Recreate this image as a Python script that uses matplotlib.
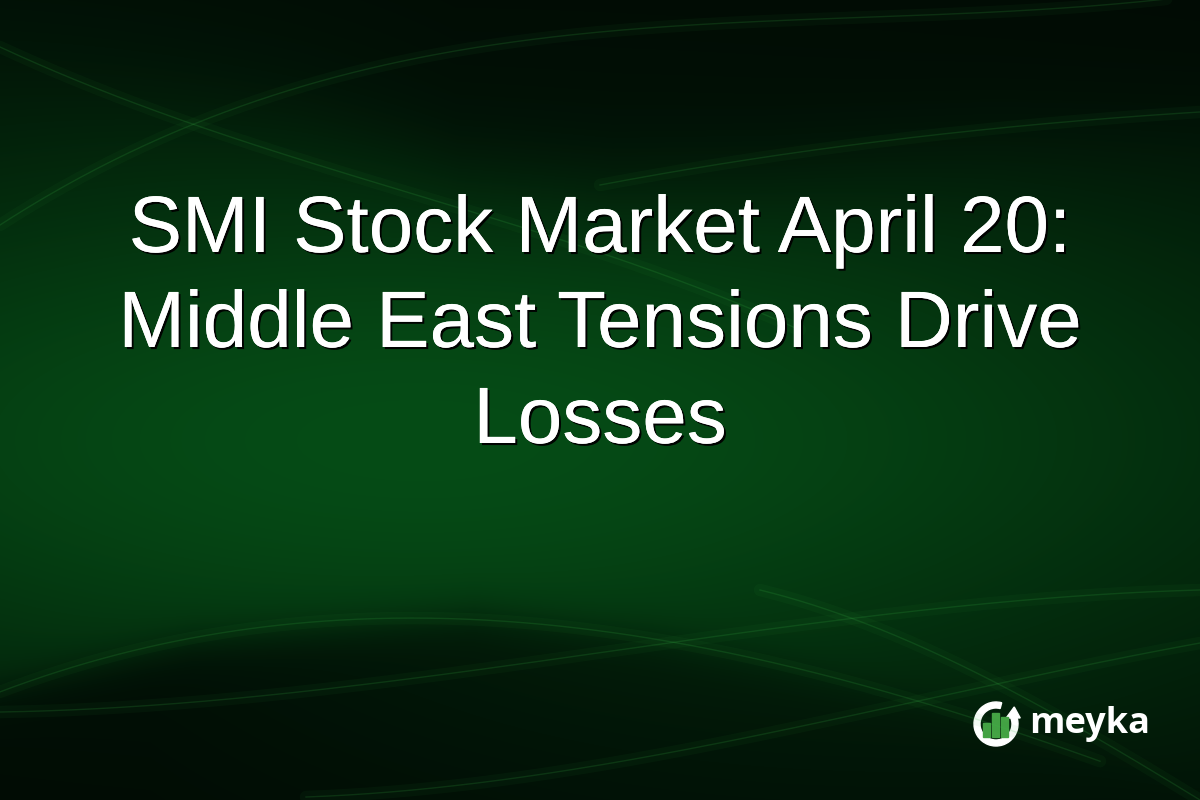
import numpy as np
import matplotlib
matplotlib.use("Agg")
import matplotlib.pyplot as plt
import matplotlib.patheffects as pe
from matplotlib.patches import Wedge, Rectangle, Polygon

# canvas size in pixels
W, H = 1200, 800

# text content
title_lines = ["SMI Stock Market April 20:", "Middle East Tensions Drive", "Losses"]
title_baselines = [252, 347, 443]
brand = "meyka"

# logo bars (heights in px, drawn inside the ring)
logo_bar_heights = [14, 24, 20]


def smooth_step(v):
    return 1.0 / (1.0 + np.exp(-v))


def smooth_curve(px, py, n=300):
    # smooth cubic through a few guide points (decoration only)
    coef = np.polyfit(px, py, min(3, len(px) - 1))
    t = np.linspace(px[0], px[-1], n)
    return t, np.polyval(coef, t)


# background: green glow with darker bands top and bottom
yy, xx = np.mgrid[0:H, 0:W].astype(float)
glow = np.exp(-(((xx - 420) / 1000) ** 2 + ((yy - 440) / 330) ** 2))

top_edge = np.interp(xx, [0, 300, 459, 612, 765, 995, 1200],
                     [40, 110, 163, 179, 168, 133, 117])
top_dark = smooth_step((top_edge - yy) / 30) * np.clip(0.35 + xx / 700, 0, 1)

hill_edge = np.interp(xx, [0, 191, 474, 650, 765, 918, 1100, 1200],
                      [690, 643, 615, 637, 663, 703, 760, 800])
hill_dark = smooth_step((yy - hill_edge) / 12) * np.clip(1.1 - xx / 1500, 0, 1)

shade = glow * (1 - 0.75 * top_dark) * (1 - 0.85 * hill_dark)
shade = np.clip(shade, 0, 1)

dark = np.array([1, 10, 4]) / 255.0
bright = np.array([6, 76, 22]) / 255.0
img = dark + shade[..., None] * (bright - dark)

fig = plt.figure(figsize=(12, 8), dpi=100)
ax = fig.add_axes([0, 0, 1, 1])
ax.imshow(img, extent=[0, W, H, 0], interpolation="bilinear")
ax.set_xlim(0, W)
ax.set_ylim(H, 0)
ax.axis("off")

# faint light streaks
streaks = [
    ([0, 268, 600, 1200], [225, 97, 32, -5]),
    ([0, 344, 650, 800], [47, 173, 270, 330]),
    ([600, 800, 1000, 1200], [185, 152, 128, 112]),
    ([0, 191, 474, 650, 765, 918, 1100], [690, 643, 615, 637, 663, 703, 760]),
    ([0, 400, 800, 1200], [712, 680, 625, 590]),
    ([306, 600, 900, 1200], [797, 765, 705, 643]),
    ([760, 950, 1100, 1200], [590, 660, 740, 800]),
]
for sx, sy in streaks:
    tx, ty = smooth_curve(sx, sy)
    ax.plot(tx, ty, color="#2fa03a", alpha=0.06, lw=9, solid_capstyle="round")
    ax.plot(tx, ty, color="#3cc04a", alpha=0.16, lw=1.0)

# title
shadow = [pe.withSimplePatchShadow(offset=(1.5, -1.5), shadow_rgbFace="black",
                                   alpha=0.95), pe.Normal()]
for line, yb in zip(title_lines, title_baselines):
    ax.text(600, yb, line, color="white", fontsize=57.6,
            family="Liberation Sans", ha="center", va="baseline",
            path_effects=shadow)

# logo ring with arrow
cx, cy, r = 996, 724, 22
ax.add_patch(Wedge((cx, cy), r, -25, 285, width=6, color="white"))
ang = np.deg2rad(-25)
px, py = cx + (r - 3) * np.cos(ang), cy + (r - 3) * np.sin(ang)
ax.add_patch(Polygon([[px - 7, py + 2], [px + 7, py + 2], [px + 1, py - 9]],
                     closed=True, color="white"))

bar_x = [983, 992, 1001]
for bx, h in zip(bar_x, logo_bar_heights):
    ax.add_patch(Rectangle((bx, 737 - h), 7, h, color="#44a344"))

ax.text(1029, 733, brand, color="white", fontsize=26, family="Open Sans",
        fontweight="bold", ha="left", va="baseline")

fig.savefig("out.png", dpi=100)
